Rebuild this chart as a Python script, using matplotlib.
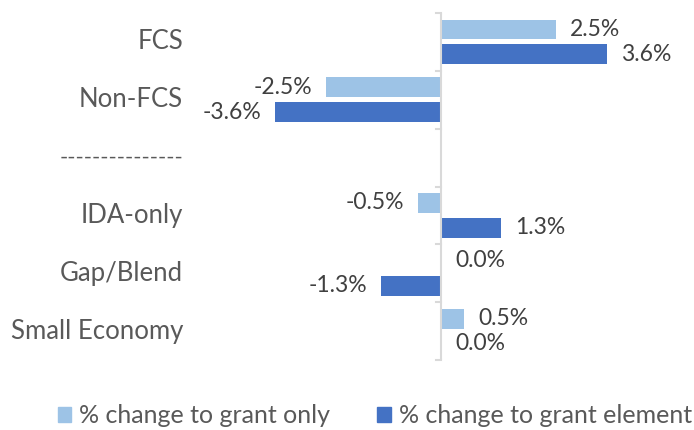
import matplotlib.pyplot as plt
import numpy as np
from matplotlib.patches import Patch

categories = ["FCS", "Non-FCS", "---------------", "IDA-only", "Gap/Blend", "Small Economy"]
grant_only = [2.5, -2.5, None, -0.5, 0.0, 0.5]
grant_element = [3.6, -3.6, None, 1.3, -1.3, 0.0]
series_names = ["% change to grant only", "% change to grant element"]

light = "#9DC3E6"
dark = "#4472C4"
txt = "#404040"
plt.rcParams["font.family"] = ["Lato", "DejaVu Sans"]

fig = plt.figure(figsize=(6.94, 4.30), dpi=100)
ax = fig.add_axes([190 / 694, 1 - 360 / 430, 502 / 694, 347 / 430])

y = np.arange(len(categories))
h = 0.345
off = 0.215


def draw(vals, dy, color):
    for yi, v in zip(y, vals):
        if v is None:
            continue
        ax.barh(yi + dy, v, height=h, color=color)
        sign = -1 if v < 0 else 1
        ax.annotate(f"{v:.1f}%", (v, yi + dy), xytext=(sign * 10, 0),
                    textcoords="offset points", ha="right" if v < 0 else "left",
                    va="center", fontsize=16.5, color=txt)


draw(grant_only, -off, light)
draw(grant_element, off, dark)

ax.set_xlim(-5.45, 5.45)
ax.set_ylim(len(categories) - 0.5, -0.5)
for s in ["top", "right", "bottom", "left"]:
    ax.spines[s].set_visible(False)
ax.axvline(0, color="#d9d9d9", lw=1.5)
ax.set_xticks([])
ax.set_yticks([])
for b in np.arange(-0.5, len(categories), 1.0):
    ax.plot([-0.1, 0], [b, b], color="#d9d9d9", lw=1.5, clip_on=False)
for yi, c in zip(y, categories):
    ax.annotate(c, (0, yi), xycoords=("axes fraction", "data"), xytext=(-5, 0),
                textcoords="offset points", ha="right", va="center",
                fontsize=18.5 if "-" * 3 not in c else 16, color="#595959")

handles = [Patch(color=light), Patch(color=dark)]
fig.legend(handles, series_names, loc="center", bbox_to_anchor=(0.54, 0.033),
           ncol=2, frameon=False, fontsize=18, handlelength=0.55, handleheight=0.55,
           handletextpad=0.3, columnspacing=1.9, labelcolor="#595959")

fig.savefig("out.png", dpi=100)
